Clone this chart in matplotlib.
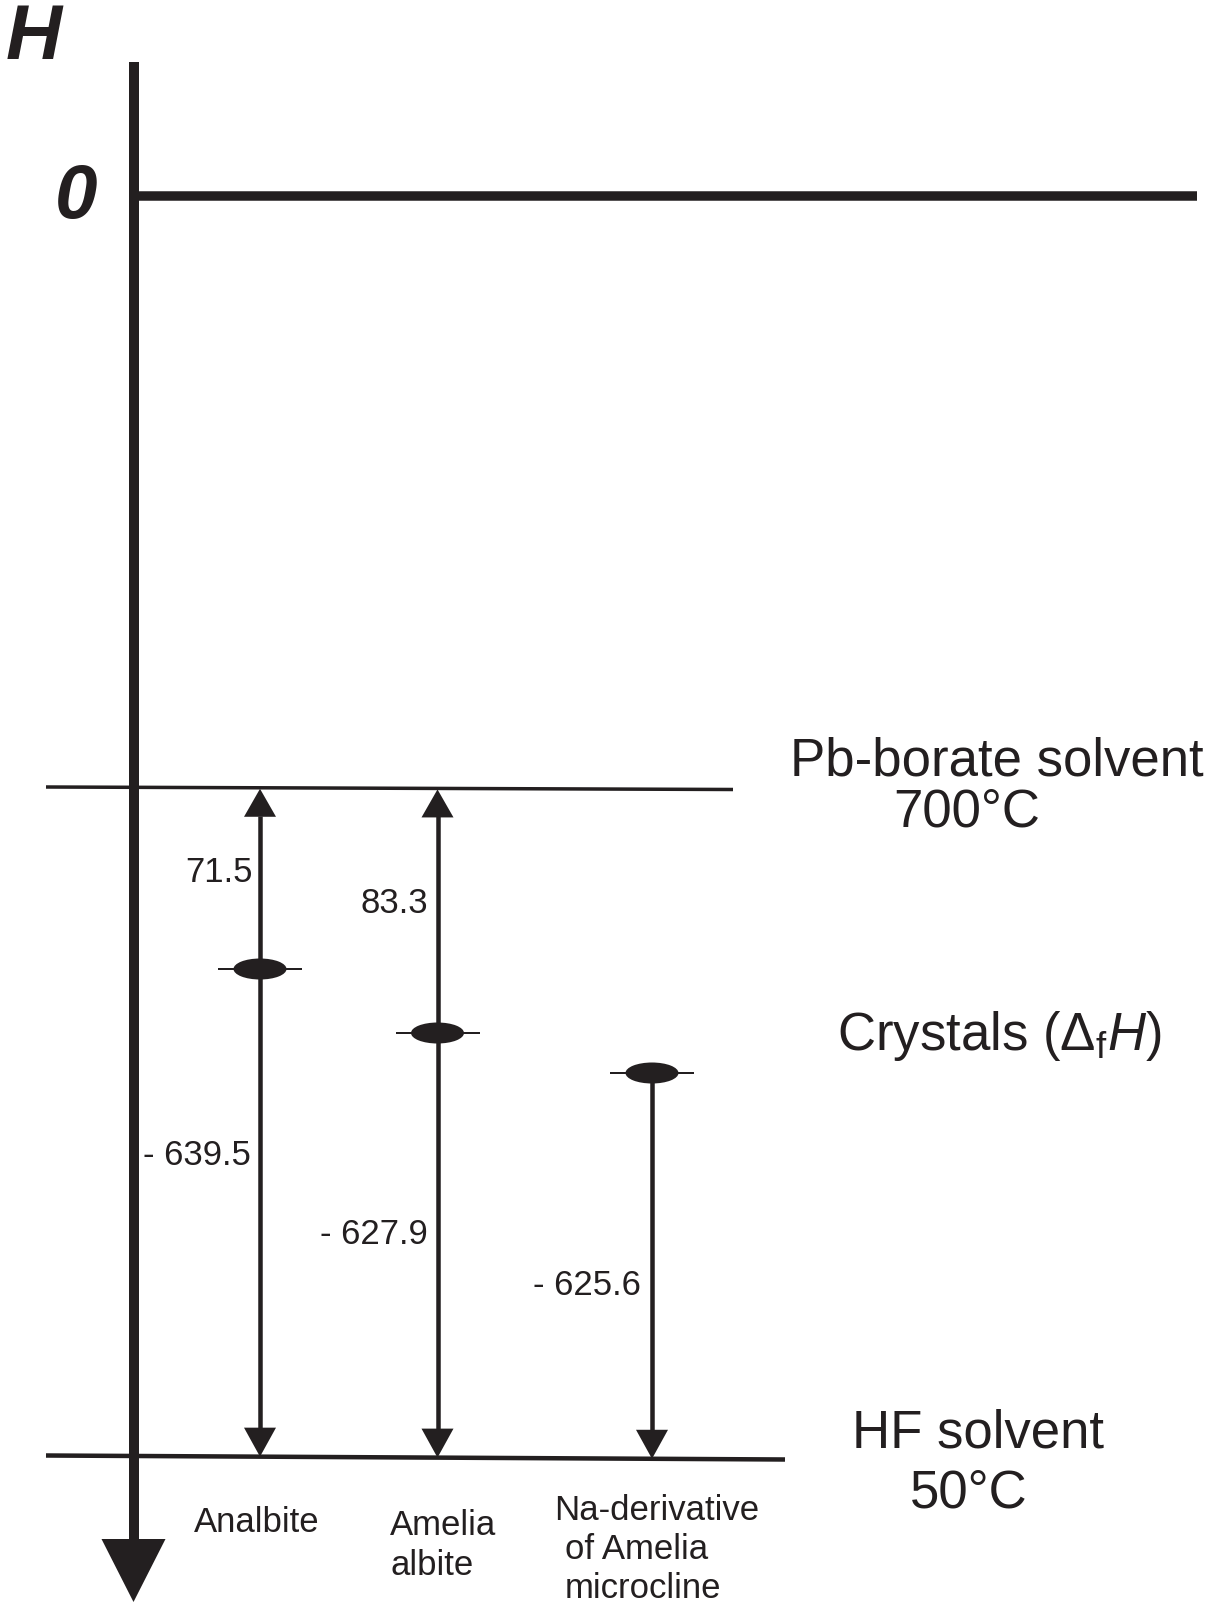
import matplotlib
matplotlib.use("Agg")
import matplotlib.pyplot as plt
from matplotlib.patches import Ellipse, Polygon

plt.rcParams['font.family'] = ['Liberation Sans', 'DejaVu Sans']
plt.rcParams['mathtext.fontset'] = 'custom'
plt.rcParams['mathtext.rm'] = 'Liberation Sans'
plt.rcParams['mathtext.it'] = 'Liberation Sans:italic'
plt.rcParams['mathtext.bf'] = 'Liberation Sans:bold'

# ---------------- data ----------------
mineral_label_lines = [["Analbite"], ["Amelia", "albite"],
                       ["Na-derivative", "of Amelia", "microcline"]]
drop_solution_enthalpy = [71.5, 83.3, None]          # kJ/mol, Pb-borate -> crystal
formation_enthalpy = [-639.5, -627.9, -625.6]        # kJ/mol, crystal -> HF solvent
level_titles = [["Pb-borate solvent", "700°C"],
                [r"Crystals ($\Delta_{\mathrm{f}}\mathit{H}$)"],
                ["HF solvent", "50°C"]]
axis_title = "H"
zero_label = "0"

# ---------------- layout (schematic pixel frame) ----------------
W, H = 1206, 1606
INK = '#231f20'
PT = 0.72            # points per pixel at 100 dpi

axis_x, axis_top, axis_tip = 133.5, 63, 1603
axis_head_w, axis_head_len = 64, 63
zero_y, zero_right = 197, 1197
pb_x, pb_y = (46, 733), (788, 790.5)
hf_x, hf_y = (46, 785), (1456.5, 1460.5)
col_x = [260, 437.5, 652]
crystal_y = [970, 1034, 1074]
head_w, head_len = 32, 29
ell_w, ell_h, tick_half = 53, 21, 41

num_right = [(253, 882, 251, 1165), (428, 913, 428, 1244), (None, None, 641, 1295)]
title_pos = [[(790, 776), (893, 827)], [(837, 1050)], [(852, 1448), (910, 1508)]]
label_pos = [[(194, 1532)], [(390, 1535), (390, 1575)],
             [(554, 1520), (565, 1559), (565, 1598)]]


def y_on(line_x, line_y, x):
    t = (x - line_x[0]) / (line_x[1] - line_x[0])
    return line_y[0] + t * (line_y[1] - line_y[0])


fig = plt.figure(figsize=(W / 100, H / 100), dpi=100)
ax = fig.add_axes([0, 0, 1, 1])
ax.set_xlim(0, W)
ax.set_ylim(H, 0)
ax.axis('off')

# main enthalpy axis
ax.plot([axis_x, axis_x], [axis_top, axis_tip - axis_head_len + 2], color=INK,
        lw=10 * PT, solid_capstyle='butt')
ax.add_patch(Polygon([(axis_x - axis_head_w / 2, axis_tip - axis_head_len),
                      (axis_x + axis_head_w / 2, axis_tip - axis_head_len),
                      (axis_x, axis_tip)], closed=True, color=INK, lw=0))
# zero level
ax.plot([axis_x, zero_right], [zero_y, zero_y], color=INK, lw=9.5 * PT,
        solid_capstyle='butt')
# solvent levels
ax.plot(pb_x, pb_y, color=INK, lw=3.5 * PT, solid_capstyle='butt')
ax.plot(hf_x, hf_y, color=INK, lw=4.5 * PT, solid_capstyle='butt')

for i, x in enumerate(col_x):
    ytop_line = y_on(pb_x, pb_y, x)
    ybot_line = y_on(hf_x, hf_y, x)
    cy = crystal_y[i]
    if drop_solution_enthalpy[i] is not None:
        y0 = ytop_line + head_len - 1
        ax.add_patch(Polygon([(x - head_w / 2, ytop_line + head_len),
                              (x + head_w / 2, ytop_line + head_len),
                              (x, ytop_line + 1)], closed=True, color=INK, lw=0))
    else:
        y0 = cy
    y1 = ybot_line - head_len + 1
    ax.plot([x, x], [y0, y1], color=INK, lw=4.5 * PT, solid_capstyle='butt')
    ax.add_patch(Polygon([(x - head_w / 2, ybot_line - head_len),
                          (x + head_w / 2, ybot_line - head_len),
                          (x, ybot_line)], closed=True, color=INK, lw=0))
    # crystal marker
    ax.plot([x - tick_half, x + tick_half], [cy, cy], color=INK, lw=2 * PT)
    ax.add_patch(Ellipse((x, cy), ell_w, ell_h, color=INK, lw=0, zorder=3))

    # values
    rx1, by1, rx2, by2 = num_right[i]
    if drop_solution_enthalpy[i] is not None:
        ax.text(rx1, by1, f"{drop_solution_enthalpy[i]:.1f}", ha='right',
                va='baseline', fontsize=25, color=INK)
    v = formation_enthalpy[i]
    ax.text(rx2, by2, f"- {abs(v):.1f}", ha='right', va='baseline',
            fontsize=25, color=INK)
    # mineral labels
    for line, (lx, ly) in zip(mineral_label_lines[i], label_pos[i]):
        ax.text(lx, ly, line, ha='left', va='baseline', fontsize=25, color=INK)

# level titles
for lines, poss in zip(level_titles, title_pos):
    for line, (lx, ly) in zip(lines, poss):
        ax.text(lx, ly, line, ha='left', va='baseline', fontsize=38, color=INK)

# axis labels
ax.text(6, 59, axis_title, ha='left', va='baseline', fontsize=56,
        fontweight='bold', fontstyle='italic', color=INK)
ax.text(55, 218, zero_label, ha='left', va='baseline', fontsize=55,
        fontweight='bold', fontstyle='italic', color=INK)

fig.savefig("out.png", dpi=100)
